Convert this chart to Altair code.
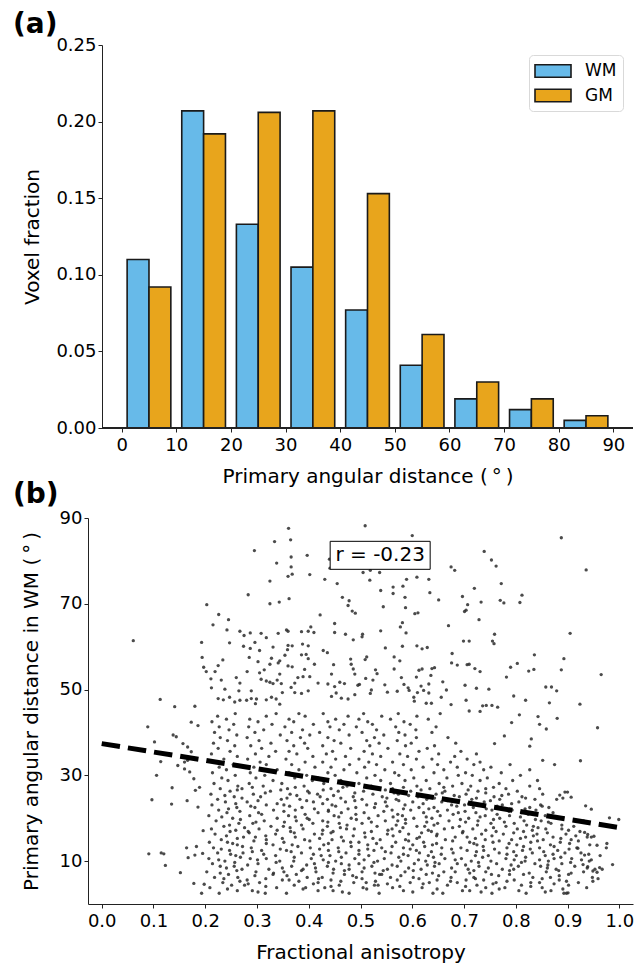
import altair as alt
import pandas as pd

FONT = "DejaVu Sans"

# ---------------- panel (a): histogram fractions ----------------
bin_start = [0, 10, 20, 30, 40, 50, 60, 70, 80]
wm_frac = [0.110, 0.207, 0.133, 0.105, 0.077, 0.041, 0.019, 0.012, 0.005]
gm_frac = [0.092, 0.192, 0.206, 0.207, 0.153, 0.061, 0.030, 0.019, 0.008]
groups = ["WM", "GM"]
group_colors = ["#67BAE9", "#E8A51C"]
a_xticks = [0, 10, 20, 30, 40, 50, 60, 70, 80, 90]
a_yticks = [0.0, 0.05, 0.10, 0.15, 0.20, 0.25]

# ---------------- panel (b): scatter (FA, angle) ----------------
sparse_pts = [
    (.361, 87.6), (.365, 84.9), (.334, 84.5), (.295, 82.4), (.366, 80.9), (.397, 81.3), (.338, 79.5),
    (.366, 78.6), (.440, 80.4), (.441, 78.3), (.360, 76.4), (.368, 76.9), (.402, 76.8), (.325, 75.3),
    (.431, 75.7), (.455, 74.7), (.283, 72.1), (.325, 70.0), (.343, 70.4), (.362, 71.2), (.203, 69.8),
    (.465, 71.5), (.478, 70.7), (.476, 69.6), (.484, 68.3), (.490, 67.8), (.422, 67.4), (.226, 67.5),
    (.245, 66.3), (.215, 65.1), (.242, 63.9), (.061, 61.4), (.193, 61.0), (.267, 63.6), (.275, 62.6),
    (.287, 63.2), (.308, 63.1), (.296, 61.0), (.318, 62.1), (.341, 63.1), (.357, 63.9), (.360, 63.6),
    (.386, 63.5), (.399, 63.6), (.404, 64.6), (.410, 63.3), (.450, 65.4), (.450, 63.3), (.471, 62.9),
    (.486, 61.6), (.503, 62.3), (.247, 60.9), (.274, 60.1), (.287, 59.6), (.305, 59.1), (.331, 59.9),
    (.360, 60.3), (.368, 60.2), (.359, 59.3), (.388, 60.6), (.399, 60.2), (.428, 59.1), (.436, 58.6),
    (.194, 57.5), (.197, 55.2), (.202, 54.2), (.211, 52.5), (.212, 50.4), (.225, 55.6), (.219, 54.2),
    (.234, 56.9), (.231, 52.2), (.238, 50.1), (.260, 52.8), (.267, 51.5), (.265, 49.7), (.289, 49.7),
    (.281, 54.2), (.285, 57.5), (.302, 56.5), (.305, 53.9), (.314, 54.6), (.325, 55.9), (.328, 57.3),
    (.341, 56.2), (.344, 56.7), (.354, 58.0), (.386, 58.1), (.395, 58.2), (.399, 57.2), (.360, 55.5),
    (.368, 55.3), (.392, 54.7), (.411, 55.9), (.402, 53.0), (.389, 53.0), (.379, 52.8), (.373, 51.5),
    (.366, 50.5), (.308, 52.4), (.318, 52.0), (.325, 51.7), (.331, 51.4), (.339, 52.2), (.344, 53.6),
    (.347, 51.4), (.349, 49.3), (.299, 47.8), (.318, 47.6), (.328, 48.2), (.337, 47.8), (.344, 46.6),
    (.373, 49.3), (.386, 49.1), (.399, 49.7), (.418, 51.5), (.437, 51.3), (.450, 50.7), (.460, 51.7),
    (.469, 51.4), (.444, 53.6), (.448, 55.8), (.481, 57.1), (.482, 55.9), (.486, 54.8), (.489, 53.6),
    (.444, 48.4), (.453, 49.2), (.463, 48.0), (.476, 47.8), (.489, 48.8), (.498, 51.2), (.225, 47.9),
    (.235, 47.6), (.247, 48.2), (.257, 47.1), (.267, 47.5), (.280, 47.5), (.289, 47.9), (.297, 46.7),
    (.113, 47.7), (.141, 46.0), (.180, 46.1),
    (.509, 88.2), (.600, 85.9), (.888, 85.4), (.739, 82.2), (.753, 80.2), (.762, 78.8), (.675, 78.6),
    (.682, 77.8), (.936, 77.9), (.505, 77.3), (.519, 77.8), (.537, 77.3), (.518, 75.5), (.589, 75.7),
    (.609, 76.2), (.632, 75.7), (.772, 74.7), (.539, 73.1), (.563, 73.9), (.563, 72.4), (.582, 74.1),
    (.586, 71.5), (.634, 72.6), (.651, 70.9), (.697, 71.7), (.720, 73.6), (.733, 70.4), (.707, 69.8),
    (.704, 68.5), (.701, 68.2), (.770, 70.8), (.777, 70.2), (.808, 70.3), (.812, 72.0), (.544, 69.3),
    (.587, 69.1), (.605, 67.7), (.611, 67.9), (.729, 66.3), (.577, 64.6), (.581, 65.6), (.670, 64.9),
    (.588, 63.2), (.504, 62.9), (.539, 63.7), (.905, 63.1), (.759, 62.9), (.755, 61.3), (.758, 60.7),
    (.699, 61.3), (.710, 61.3), (.548, 59.7), (.581, 60.1), (.609, 60.2), (.619, 59.5), (.629, 59.8),
    (.512, 57.6), (.509, 57.0), (.565, 57.6), (.576, 56.7), (.677, 58.4), (.676, 56.2), (.687, 55.7),
    (.706, 55.8), (.710, 55.9), (.721, 54.9), (.731, 54.2), (.836, 58.1), (.803, 56.1), (.790, 55.2),
    (.782, 52.9), (.825, 54.3), (.835, 54.7), (.893, 57.2), (.888, 54.6), (.965, 53.5), (.529, 54.6),
    (.532, 53.7), (.524, 52.2), (.510, 52.6), (.565, 54.8), (.579, 52.8), (.613, 54.5), (.619, 54.8),
    (.638, 54.9), (.643, 55.1), (.636, 53.3), (.632, 51.3), (.608, 52.9), (.659, 51.8), (.666, 49.9),
    (.702, 51.0), (.724, 50.3), (.748, 50.1), (.584, 51.2), (.592, 50.4), (.594, 49.8), (.547, 51.1),
    (.552, 49.4), (.571, 49.6), (.495, 51.0), (.521, 49.9), (.519, 49.1), (.858, 50.6), (.869, 50.6),
    (.879, 49.7), (.796, 48.5), (.819, 47.5), (.865, 46.9), (.924, 46.6), (.617, 50.8), (.622, 49.8),
    (.632, 49.2), (.610, 49.3), (.603, 48.2), (.604, 47.3), (.627, 46.8), (.637, 46.8), (.656, 48.2),
    (.675, 46.5), (.704, 47.5), (.736, 46.2), (.743, 46.3), (.754, 46.3), (.765, 45.9), (.710, 45.0),
    (.731, 44.9),
    (.089, 41.3), (.102, 37.8), (.138, 39.4), (.144, 39.0), (.114, 33.2), (.106, 30.0), (.136, 27.1),
    (.097, 24.3), (.135, 23.3), (.165, 24.1), (.186, 22.6), (.091, 11.7), (.115, 11.9), (.120, 11.7),
    (.123, 9.0), (.152, 7.3), (.178, 4.8), (.198, 4.6), (.193, 2.5), (.164, 13.1), (.183, 13.4),
    (.195, 11.8), (.167, 10.8), (.180, 11.4), (.196, 17.1), (.157, 37.4), (.166, 36.6), (.173, 35.5),
    (.147, 32.3), (.160, 33.1), (.166, 33.5), (.160, 31.5), (.170, 30.8), (.178, 29.2), (.181, 26.5),
    (.189, 27.2), (.173, 42.4), (.186, 41.6),
    (.958, 41.1), (.880, 43.3), (.925, 33.4), (.875, 32.5), (.999, 19.7), (.981, 20.1), (.976, 14.1),
    (.975, 13.1), (.987, 9.2), (.962, 8.5), (.967, 8.1), (.957, 7.4), (.949, 5.3), (.935, 22.9),
    (.946, 22.1), (.895, 26.1), (.900, 26.1), (.907, 24.9), (.885, 25.4), (.891, 24.7), (.951, 15.8),
    (.957, 13.7), (.933, 16.7), (.939, 16.2), (.946, 15.6), (.920, 13.0), (.933, 11.4), (.946, 10.3),
    (.930, 9.2), (.939, 8.7), (.949, 7.7), (.898, 2.5), (.901, 2.6), (.843, 43.7), (.846, 41.9),
    (.830, 38.5), (.827, 36.8), (.859, 40.8), (.852, 33.5), (.807, 44.1), (.792, 42.3), (.778, 39.2),
    (.759, 37.4),
]

dense_rows = [
    (2.5, [.227, .316, .357, .478, .536, .640, .659, .754, .820, .893]),
    (2.8, [.302, .465, .601, .733, .857]),
    (3.1, [.262, .291, .418, .447, .583, .697, .711, .806, .868]),
    (3.5, [.243, .389, .512, .648, .768, .891]),
    (3.8, [.209, .338, .394, .431, .505, .562, .619, .742, .779, .851, .937]),
    (4.1, [.317, .443, .576, .703, .829]),
    (4.4, [.251, .276, .372, .459, .527, .534, .668, .725, .811, .902]),
    (4.7, [.283, .409, .552, .621, .756, .874]),
    (5.0, [.234, .305, .418, .487, .511, .596, .633, .687, .762, .829, .846, .921]),
    (5.3, [.267, .381, .462, .529, .674, .783, .898]),
    (5.6, [.281, .349, .362, .443, .571, .648, .704, .738, .797, .884]),
    (5.9, [.236, .317, .419, .503, .613, .722, .851, .959]),
    (6.2, [.218, .263, .397, .426, .492, .558, .602, .675, .719, .833, .867, .948]),
    (6.6, [.296, .358, .485, .578, .651, .767, .884]),
    (6.9, [.245, .331, .376, .469, .537, .541, .627, .753, .788, .815, .902]),
    (7.2, [.229, .332, .447, .528, .639, .711, .826, .907]),
    (7.5, [.203, .298, .352, .414, .503, .586, .661, .683, .742, .859, .931]),
    (7.8, [.261, .386, .469, .544, .602, .719, .788, .883]),
    (8.1, [.271, .323, .389, .448, .478, .552, .617, .708, .774, .796, .878, .953]),
    (8.4, [.241, .349, .413, .507, .593, .676, .747, .861, .938]),
    (8.8, [.229, .256, .367, .436, .522, .571, .643, .729, .805, .848, .914]),
    (9.1, [.282, .396, .478, .561, .629, .703, .791, .862]),
    (9.4, [.214, .302, .411, .463, .497, .604, .652, .687, .763, .837, .889]),
    (9.7, [.257, .337, .438, .526, .644, .728, .811, .906]),
    (10.0, [.238, .344, .371, .452, .533, .578, .626, .714, .752, .818, .863, .942]),
    (10.3, [.226, .301, .428, .507, .612, .683, .797, .846, .927]),
    (10.6, [.207, .287, .318, .405, .489, .546, .663, .695, .781, .874, .908]),
    (10.9, [.268, .372, .463, .574, .641, .736, .819, .887]),
    (11.3, [.259, .336, .424, .441, .516, .592, .631, .722, .747, .801, .857, .963]),
    (11.6, [.249, .313, .409, .497, .583, .656, .783, .872, .941]),
    (11.9, [.224, .273, .386, .472, .559, .614, .679, .768, .832, .895, .926]),
    (12.2, [.291, .366, .458, .548, .637, .724, .796, .854]),
    (12.5, [.247, .309, .357, .438, .497, .526, .608, .706, .738, .813, .881]),
    (12.8, [.231, .345, .421, .514, .596, .676, .759, .828, .903]),
    (13.1, [.216, .289, .403, .457, .541, .583, .657, .694, .783, .846, .918]),
    (13.4, [.272, .379, .482, .561, .624, .737, .815, .874]),
    (13.8, [.262, .331, .368, .429, .514, .601, .639, .725, .802, .867, .943]),
    (14.1, [.253, .318, .438, .531, .647, .719, .787, .904]),
    (14.4, [.208, .243, .352, .481, .497, .568, .622, .711, .756, .829, .886]),
    (14.7, [.294, .402, .467, .593, .678, .768, .842, .921]),
    (15.0, [.231, .318, .392, .445, .538, .587, .664, .741, .792, .853, .907]),
    (15.3, [.262, .349, .421, .524, .609, .722, .809, .887]),
    (15.6, [.274, .297, .374, .463, .509, .614, .683, .706, .819, .872, .938]),
    (15.9, [.241, .317, .486, .563, .647, .754, .834, .916]),
    (16.3, [.219, .336, .411, .426, .552, .593, .648, .734, .776, .841, .897]),
    (16.6, [.285, .372, .443, .508, .618, .697, .796, .861]),
    (16.9, [.248, .283, .365, .447, .521, .576, .637, .698, .762, .815, .924]),
    (17.2, [.259, .339, .427, .553, .631, .742, .832, .902]),
    (17.5, [.212, .304, .389, .473, .488, .561, .662, .717, .803, .858, .889]),
    (17.8, [.276, .364, .461, .582, .678, .757, .843]),
    (18.1, [.236, .327, .351, .436, .532, .609, .624, .691, .781, .834, .912]),
    (18.4, [.247, .386, .474, .569, .642, .726, .821, .889]),
    (18.8, [.265, .292, .408, .459, .503, .587, .649, .752, .797, .868]),
    (19.1, [.298, .353, .437, .521, .628, .703, .778, .863]),
    (19.4, [.221, .314, .376, .427, .548, .572, .671, .727, .816, .849, .931]),
    (19.7, [.268, .401, .492, .587, .693, .757, .838]),
    (20.0, [.253, .339, .397, .482, .516, .603, .638, .709, .769, .883]),
    (20.3, [.232, .374, .458, .563, .627, .731, .809, .873]),
    (20.6, [.207, .286, .361, .449, .534, .581, .654, .741, .788, .857]),
    (20.9, [.309, .393, .491, .572, .679, .764, .824]),
    (21.3, [.242, .303, .418, .463, .507, .622, .689, .723, .811, .872]),
    (21.6, [.267, .352, .438, .545, .649, .702, .787]),
    (21.9, [.226, .332, .374, .438, .561, .597, .668, .754, .793, .839]),
    (22.2, [.245, .411, .476, .583, .632, .743, .818]),
    (22.5, [.261, .296, .387, .491, .527, .613, .642, .718, .827, .864]),
    (22.8, [.288, .363, .452, .551, .686, .764, .851]),
    (23.1, [.213, .318, .352, .445, .512, .586, .676, .701, .774, .848]),
    (23.4, [.259, .339, .427, .529, .621, .709, .792]),
    (23.8, [.239, .281, .409, .471, .548, .601, .657, .739, .806]),
    (24.1, [.302, .396, .489, .574, .668, .751]),
    (24.4, [.224, .347, .383, .436, .503, .569, .628, .715, .769, .837, .879]),
    (24.7, [.271, .358, .462, .551, .643, .724, .819]),
    (25.0, [.256, .307, .422, .486, .542, .611, .691, .758, .812]),
    (25.3, [.238, .377, .448, .593, .681, .773]),
    (25.6, [.211, .293, .364, .417, .524, .573, .646, .704, .786, .852]),
    (25.9, [.316, .401, .489, .565, .658, .742]),
    (26.3, [.248, .326, .398, .457, .506, .597, .663, .727, .803]),
    (26.6, [.262, .346, .428, .548, .617, .708]),
    (26.9, [.229, .271, .359, .443, .536, .562, .634, .742, .781, .846]),
    (27.2, [.291, .374, .466, .583, .661, .757]),
    (27.5, [.263, .312, .391, .474, .521, .609, .678, .713, .827]),
    (28.1, [.217, .285, .348, .429, .497, .558, .652, .696, .768]),
    (28.8, [.244, .331, .407, .462, .539, .586, .627, .731, .794, .842]),
    (29.4, [.232, .298, .373, .418, .512, .603, .667, .745]),
    (30.0, [.258, .315, .396, .451, .528, .574, .689, .716, .809]),
    (30.6, [.214, .287, .362, .437, .493, .566, .642, .703, .772]),
    (31.3, [.241, .339, .381, .468, .547, .598, .661, .738, .827]),
    (31.9, [.227, .294, .412, .443, .508, .621, .687, .752]),
    (32.5, [.254, .318, .367, .479, .531, .583, .649, .719, .789]),
    (33.1, [.219, .306, .393, .427, .516, .562, .674, .731]),
    (33.8, [.236, .282, .356, .452, .497, .608, .638, .706]),
    (34.4, [.262, .323, .408, .471, .539, .591, .682]),
    (35.0, [.212, .297, .377, .434, .523, .576, .651, .724]),
    (35.6, [.248, .336, .362, .446, .507, .613, .694]),
    (36.3, [.225, .309, .398, .481, .553, .629]),
    (36.9, [.257, .288, .371, .427, .518, .587, .643]),
    (37.5, [.216, .327, .392, .462, .536, .598, .684]),
    (38.1, [.243, .304, .358, .449, .512, .571]),
    (38.8, [.229, .281, .384, .437, .527, .608, .669]),
    (39.4, [.261, .345, .402, .478, .545, .586]),
    (40.0, [.218, .296, .367, .421, .503, .574, .638]),
    (40.6, [.246, .313, .388, .459, .531, .607]),
    (41.3, [.227, .284, .354, .441, .492, .568, .646]),
    (41.9, [.255, .329, .409, .468, .523, .596]),
    (42.5, [.213, .302, .371, .437, .514, .584]),
    (43.1, [.241, .286, .362, .452, .497, .558, .631]),
    (43.8, [.224, .318, .393, .476, .541, .609]),
    (44.4, [.258, .337, .381, .428, .506, .573, .654]),
]

fit_fa = [0.0, 1.0]
fit_ang = [37.4, 17.8]
r_label = ["r = -0.23"]
r_fa = [0.538]
r_ang = [81.3]
b_xticks = [0.0, 0.1, 0.2, 0.3, 0.4, 0.5, 0.6, 0.7, 0.8, 0.9, 1.0]
b_yticks = [10, 30, 50, 70, 90]

# ---------------- tables ----------------
bar_rows = []
for s, w, g in zip(bin_start, wm_frac, gm_frac):
    bar_rows.append({"group": "WM", "x0": s + 1, "x1": s + 5, "frac": w})
    bar_rows.append({"group": "GM", "x0": s + 5, "x1": s + 9, "frac": g})
bars_df = pd.DataFrame(bar_rows)

fa_vals = [p[0] for p in sparse_pts]
ang_vals = [p[1] for p in sparse_pts]
for y, xs in dense_rows:
    for x in xs:
        fa_vals.append(x)
        ang_vals.append(y)
pts_df = pd.DataFrame({"fa": fa_vals, "ang": ang_vals})
fit_df = pd.DataFrame({"fa": fit_fa, "ang": fit_ang})
r_df = pd.DataFrame({"fa": r_fa, "ang": r_ang, "label": r_label})

# ---------------- panel (a) ----------------
# Both panels share the same plot origin; panel (a)'s axes start 14 px further right.
AX_A_LO, AX_A_HI = -3.6, 93.6
xa_scale = alt.Scale(domain=[-6.163, AX_A_HI], nice=False, zero=False)
ya_scale = alt.Scale(domain=[0, 0.25], nice=False)

bars = alt.Chart(bars_df).mark_bar(stroke="#1a1a1a", strokeWidth=1.6).encode(
    x=alt.X("x0:Q", scale=xa_scale,
            axis=alt.Axis(values=a_xticks, format="d", domain=False,
                          title="Primary angular distance (\u2009°\u2009)",
                          labelPadding=4, titlePadding=12, titleX=14 + 531 / 2)),
    x2="x1:Q",
    y=alt.Y("frac:Q", scale=ya_scale,
            axis=alt.Axis(values=a_yticks, format=".2f", title="Voxel fraction", offset=-14,
                          labelPadding=2, titlePadding=13)),
    y2=alt.datum(0),
    color=alt.Color("group:N", sort=groups,
                    scale=alt.Scale(domain=groups, range=group_colors),
                    legend=alt.Legend(title=None, orient="none", legendX=441, legendY=10,
                                      direction="vertical",
                                      symbolType="M-2,-0.7H2V0.7H-2Z", symbolSize=324,
                                      symbolOffset=8,
                                      symbolStrokeColor="#1a1a1a", symbolStrokeWidth=1.6,
                                      symbolOpacity=1,
                                      labelFontSize=17, labelFont=FONT, labelColor="black",
                                      labelOffset=22, rowPadding=4.5, padding=6,
                                      strokeColor="#d9d9d9", cornerRadius=4, fillColor="white")),
)
baseline = alt.Chart(bars_df).mark_rule(color="#222222", strokeWidth=1).encode(
    x=alt.datum(AX_A_LO), x2=alt.datum(AX_A_HI), y=alt.datum(0))

panel_a = alt.layer(bars, baseline).properties(
    width=545, height=383,
    title=alt.TitleParams("(a)", anchor="start", frame="group", dx=-75, offset=-3,
                          fontSize=28, fontWeight="bold", font=FONT, color="black"),
)

# ---------------- panel (b) ----------------
xb = alt.X("fa:Q", scale=alt.Scale(domain=[-0.0265, 1.0265], nice=False, zero=False),
           axis=alt.Axis(values=b_xticks, format=".1f", title="Fractional anisotropy",
                         labelPadding=4, titlePadding=12))
yb = alt.Y("ang:Q", scale=alt.Scale(domain=[0, 90], nice=False),
           axis=alt.Axis(values=b_yticks, format="d",
                         title="Primary angular distance in WM (\u2009°\u2009)",
                         labelPadding=2, titlePadding=18))

scatter = alt.Chart(pts_df).mark_circle(size=11, color="#2b2b2b", opacity=0.85).encode(x=xb, y=yb)
fit = alt.Chart(fit_df).mark_line(color="black", strokeWidth=5, strokeDash=[18.5, 8],
                                  strokeCap="butt").encode(x="fa:Q", y="ang:Q")
box = alt.Chart(r_df).mark_rect(fill="white", stroke="black", strokeWidth=1,
                                xOffset=-50, x2Offset=50, yOffset=-14, y2Offset=14).encode(
    x="fa:Q", x2="fa:Q", y="ang:Q", y2="ang:Q")
txt = alt.Chart(r_df).mark_text(fontSize=20, font=FONT, color="black", align="center",
                                baseline="middle").encode(x="fa:Q", y="ang:Q", text="label:N")

panel_b = alt.layer(scatter, fit, box, txt).properties(
    width=545, height=386,
    title=alt.TitleParams("(b)", anchor="start", frame="group", dx=-75, offset=0,
                          fontSize=28, fontWeight="bold", font=FONT, color="black"),
)

chart = alt.vconcat(panel_a, panel_b, spacing=-7).properties(
    padding={"left": 12, "top": 10, "right": 0, "bottom": 0}
).configure(font=FONT).configure_view(stroke="transparent").configure_axis(
    grid=False, domainColor="#222222", tickColor="#222222", tickSize=4, domainWidth=1,
    labelFontSize=18, labelColor="black", labelFont=FONT,
    titleFontSize=20, titleColor="black", titleFontWeight="normal", titleFont=FONT,
)

chart.save("out.html", embed_options={"renderer": "svg", "actions": False})
